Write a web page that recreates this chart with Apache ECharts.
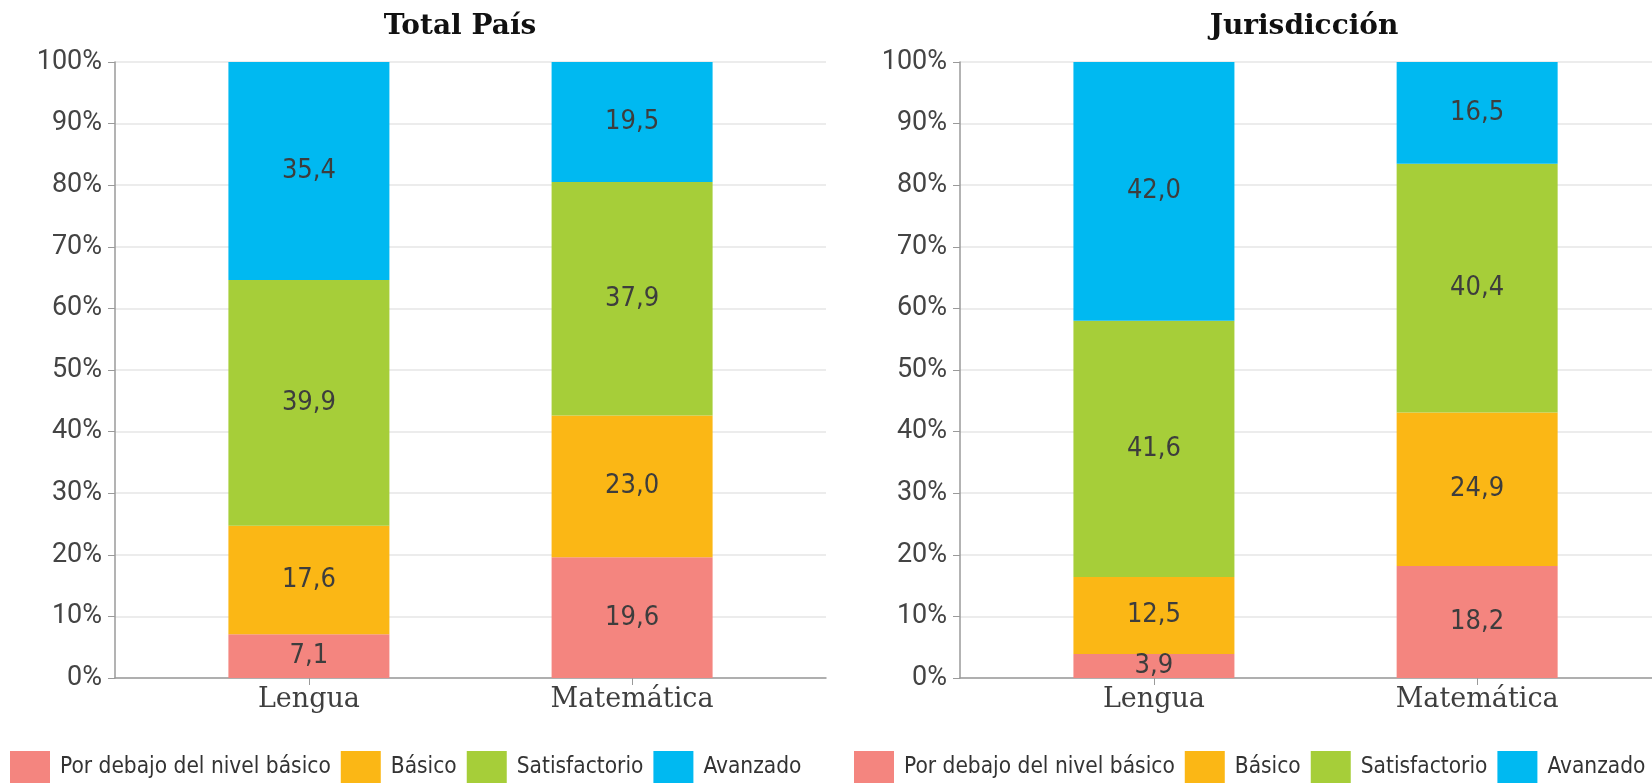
<!DOCTYPE html>
<html>
<head>
<meta charset="utf-8">
<style>
html,body{margin:0;padding:0;background:#fff;}
#chart{width:1652px;height:783px;}
</style>
<script src="https://cdn.jsdelivr.net/npm/echarts@6/dist/echarts.min.js"></script>
</head>
<body>
<div id="chart"></div>
<script>
const categories = ['Lengua', 'Matemática'];
const levels = ['Por debajo del nivel básico', 'Básico', 'Satisfactorio', 'Avanzado'];
const colors = ['#F4857F', '#FBB715', '#A6CE39', '#00B9F1'];
const titles = ['Total País', 'Jurisdicción'];

// Total País
const paisDebajo = [7.1, 19.6];
const paisBasico = [17.6, 23.0];
const paisSatisf = [39.9, 37.9];
const paisAvanz = [35.4, 19.5];
// Jurisdicción
const jurDebajo = [3.9, 18.2];
const jurBasico = [12.5, 24.9];
const jurSatisf = [41.6, 40.4];
const jurAvanz = [42.0, 16.5];

const panels = [
  [paisDebajo, paisBasico, paisSatisf, paisAvanz],
  [jurDebajo, jurBasico, jurSatisf, jurAvanz]
];

const chart = echarts.init(document.getElementById('chart'), null, {renderer: 'canvas'});

const gridLefts = [115, 960];
const gridWidths = [711, 692];
const axisMax = [1.6, 1.541];
const titleCenters = [455, 1299];
const legendLefts = [10, 854];
const narrowFont = 'Liberation Sans Narrow, DejaVu Sans Condensed, Roboto';

const grids = gridLefts.map((l, gi) => ({left: l, top: 62, width: gridWidths[gi], height: 616, containLabel: false}));

const xAxes = gridLefts.map((l, gi) => ({
  type: 'value', gridIndex: gi, min: -0.6, max: axisMax[gi],
  axisLine: {show: true, onZero: false, lineStyle: {color: '#9a9a9a', width: 1.5}},
  axisTick: {show: true, customValues: [0, 1], length: 7, lineStyle: {color: '#9a9a9a'}},
  axisLabel: {
    customValues: [0, 1], margin: 8,
    formatter: v => categories[Math.round(v)],
    fontFamily: 'DejaVu Serif', fontSize: 27, color: '#3f3f3f'
  },
  splitLine: {show: false}
}));

const yAxes = gridLefts.map((l, gi) => ({
  type: 'value', gridIndex: gi, min: 0, max: 100, interval: 10,
  axisLine: {show: true, onZero: false, lineStyle: {color: '#9a9a9a', width: 1.5}},
  axisTick: {show: true, length: 7, lineStyle: {color: '#9a9a9a'}},
  axisLabel: {formatter: '{value}%', fontFamily: 'Roboto', fontSize: 27, color: '#444', margin: 13},
  splitLine: {show: true, lineStyle: {color: '#e6e6e6', width: 1.5}}
}));

const series = [];
panels.forEach((vals, gi) => {
  vals.forEach((arr, li) => {
    series.push({
      type: 'bar', name: levels[li], xAxisIndex: gi, yAxisIndex: gi,
      stack: 'p' + gi, barWidth: 161,
      dimensions: ['pct', 'subject'],
      encode: {x: 'subject', y: 'pct'},
      itemStyle: {color: colors[li]},
      label: {
        show: true, position: 'inside',
        formatter: p => p.value[0].toFixed(1).replace('.', ','),
        fontFamily: narrowFont,
        fontSize: 27, color: '#3d3d3d'
      },
      data: arr.map((v, i) => [v, i])
    });
  });
});

chart.setOption({
  animation: false,
  backgroundColor: '#fff',
  color: colors,
  title: titles.map((t, i) => ({
    text: t, left: titleCenters[i], top: 8, textAlign: 'center',
    textStyle: {fontFamily: 'DejaVu Serif', fontWeight: 'bold', fontSize: 28, color: '#111'}
  })),
  legend: legendLefts.map(l => ({
    left: l, top: 751, width: 900, padding: 0,
    itemWidth: 40, itemHeight: 32, itemGap: 10,
    icon: 'rect', data: levels, selectedMode: false,
    textStyle: {fontFamily: narrowFont, fontSize: 22.5, color: '#333', padding: [0, 0, 0, 5]}
  })),
  grid: grids,
  xAxis: xAxes,
  yAxis: yAxes,
  series: series
});
</script>
</body>
</html>
